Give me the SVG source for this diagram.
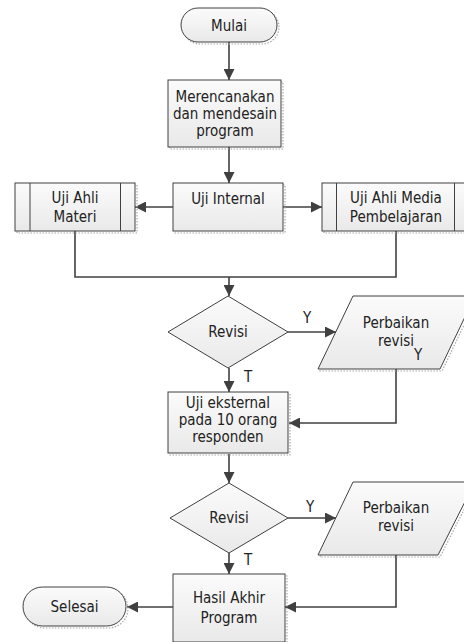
<svg xmlns="http://www.w3.org/2000/svg" width="464" height="642" viewBox="0 0 464 642">
<defs>
<linearGradient id="g" x1="0" y1="0" x2="0" y2="1">
<stop offset="0" stop-color="#fbfbfb"/>
<stop offset="1" stop-color="#e9e9e9"/>
</linearGradient>
<marker id="ah" viewBox="0 0 10 10" refX="10" refY="5" markerWidth="11" markerHeight="11" markerUnits="userSpaceOnUse" orient="auto">
<path d="M0,0 L10,5 L0,10 z" fill="#404040"/>
</marker>
</defs>
<style>
.s{fill:url(#g);stroke:#404040;stroke-width:1}
.sh{fill:none;stroke:#a8a8a8;stroke-width:1.2;stroke-dasharray:1.5 1.5}
.ln{fill:none;stroke:#404040;stroke-width:1.6}
.c{stroke:#404040;stroke-width:1.6;fill:none;marker-end:url(#ah)}
text{font-family:"DejaVu Sans Condensed","DejaVu Sans",sans-serif;font-stretch:condensed;font-size:15px;fill:#222;text-anchor:middle}
</style>
<rect width="464" height="642" fill="#fff"/>

<g id="connectors">
<path class="c" d="M229,42 V80"/>
<path class="c" d="M229,147 V183"/>
<path class="c" d="M173,207 H135"/>
<path class="c" d="M283,207 H322"/>
<path class="ln" d="M75,231 V277 H396 V231"/>
<path class="c" d="M229,277 V296"/>
<path class="c" d="M288,332 H336"/>
<path class="c" d="M229,368 V392"/>
<path class="c" d="M396,369 V423 H289"/>
<path class="c" d="M229,454 V483"/>
<path class="c" d="M288,518 H336"/>
<path class="c" d="M229,553 V574"/>
<path class="c" d="M396,555 V607 H285"/>
<path class="c" d="M173,607 H127"/>
<text x="307" y="323">Y</text>
<text x="248" y="382">T</text>
<text x="310" y="512">Y</text>
<text x="248" y="565">T</text>
</g>

<g id="mulai">
<rect class="sh" x="183" y="10" width="96" height="34" rx="17"/>
<rect class="s" x="181" y="8" width="96" height="34" rx="17"/>
<text x="229" y="31">Mulai</text>
</g>

<g id="merencanakan">
<rect class="sh" x="170" y="82" width="113" height="67"/>
<rect class="s" x="168" y="80" width="113" height="67"/>
<text x="225" y="102">Merencanakan</text>
<text x="225" y="119">dan mendesain</text>
<text x="225" y="136">program</text>
</g>

<g id="uji-internal">
<rect class="sh" x="175" y="185" width="110" height="48"/>
<rect class="s" x="173" y="183" width="110" height="48"/>
<text x="228" y="204">Uji Internal</text>
</g>

<g id="uji-ahli-materi">
<rect class="sh" x="17" y="185" width="120" height="48"/>
<rect class="s" x="15" y="183" width="120" height="48"/>
<path d="M30,183 V231 M120.5,183 V231" stroke="#404040" stroke-width="1" fill="none"/>
<text x="75" y="203">Uji Ahli</text>
<text x="75" y="222">Materi</text>
</g>

<g id="uji-ahli-media">
<rect class="sh" x="324" y="185" width="147" height="48"/>
<rect class="s" x="322" y="183" width="147" height="48"/>
<path d="M336.5,183 V231 M454.5,183 V231" stroke="#404040" stroke-width="1" fill="none"/>
<text x="396" y="203">Uji Ahli Media</text>
<text x="396" y="222">Pembelajaran</text>
</g>

<g id="revisi1">
<polygon class="s" points="228,296 288,332 228,368 168,332"/>
<text x="228" y="337">Revisi</text>
</g>

<g id="perbaikan1">
<polygon class="sh" points="355,298 477,298 442,371 320,371"/>
<polygon class="s" points="353,296 475,296 440,369 318,369"/>
<text x="396" y="328">Perbaikan</text>
<text x="396" y="346">revisi</text>
<text x="418" y="360">Y</text>
</g>

<g id="uji-eksternal">
<rect class="sh" x="170" y="394" width="120" height="61"/>
<rect class="s" x="168" y="392" width="120" height="61"/>
<text x="228" y="408">Uji eksternal</text>
<text x="228" y="425">pada 10 orang</text>
<text x="228" y="442">responden</text>
</g>

<g id="revisi2">
<polygon class="s" points="229,483 288,518 229,553 170,518"/>
<text x="229" y="523">Revisi</text>
</g>

<g id="perbaikan2">
<polygon class="sh" points="355,484 477,484 440,557 320,557"/>
<polygon class="s" points="353,482 475,482 438,555 318,555"/>
<text x="396" y="513">Perbaikan</text>
<text x="396" y="531">revisi</text>
</g>

<g id="hasil-akhir">
<rect class="sh" x="175" y="576" width="112" height="68"/>
<rect class="s" x="173" y="574" width="112" height="68"/>
<text x="229" y="603">Hasil Akhir</text>
<text x="229" y="623">Program</text>
</g>

<g id="selesai">
<rect class="sh" x="25" y="589" width="103" height="39" rx="19.5"/>
<rect class="s" x="23" y="587" width="103" height="39" rx="19.5"/>
<text x="74.5" y="612">Selesai</text>
</g>
</svg>
